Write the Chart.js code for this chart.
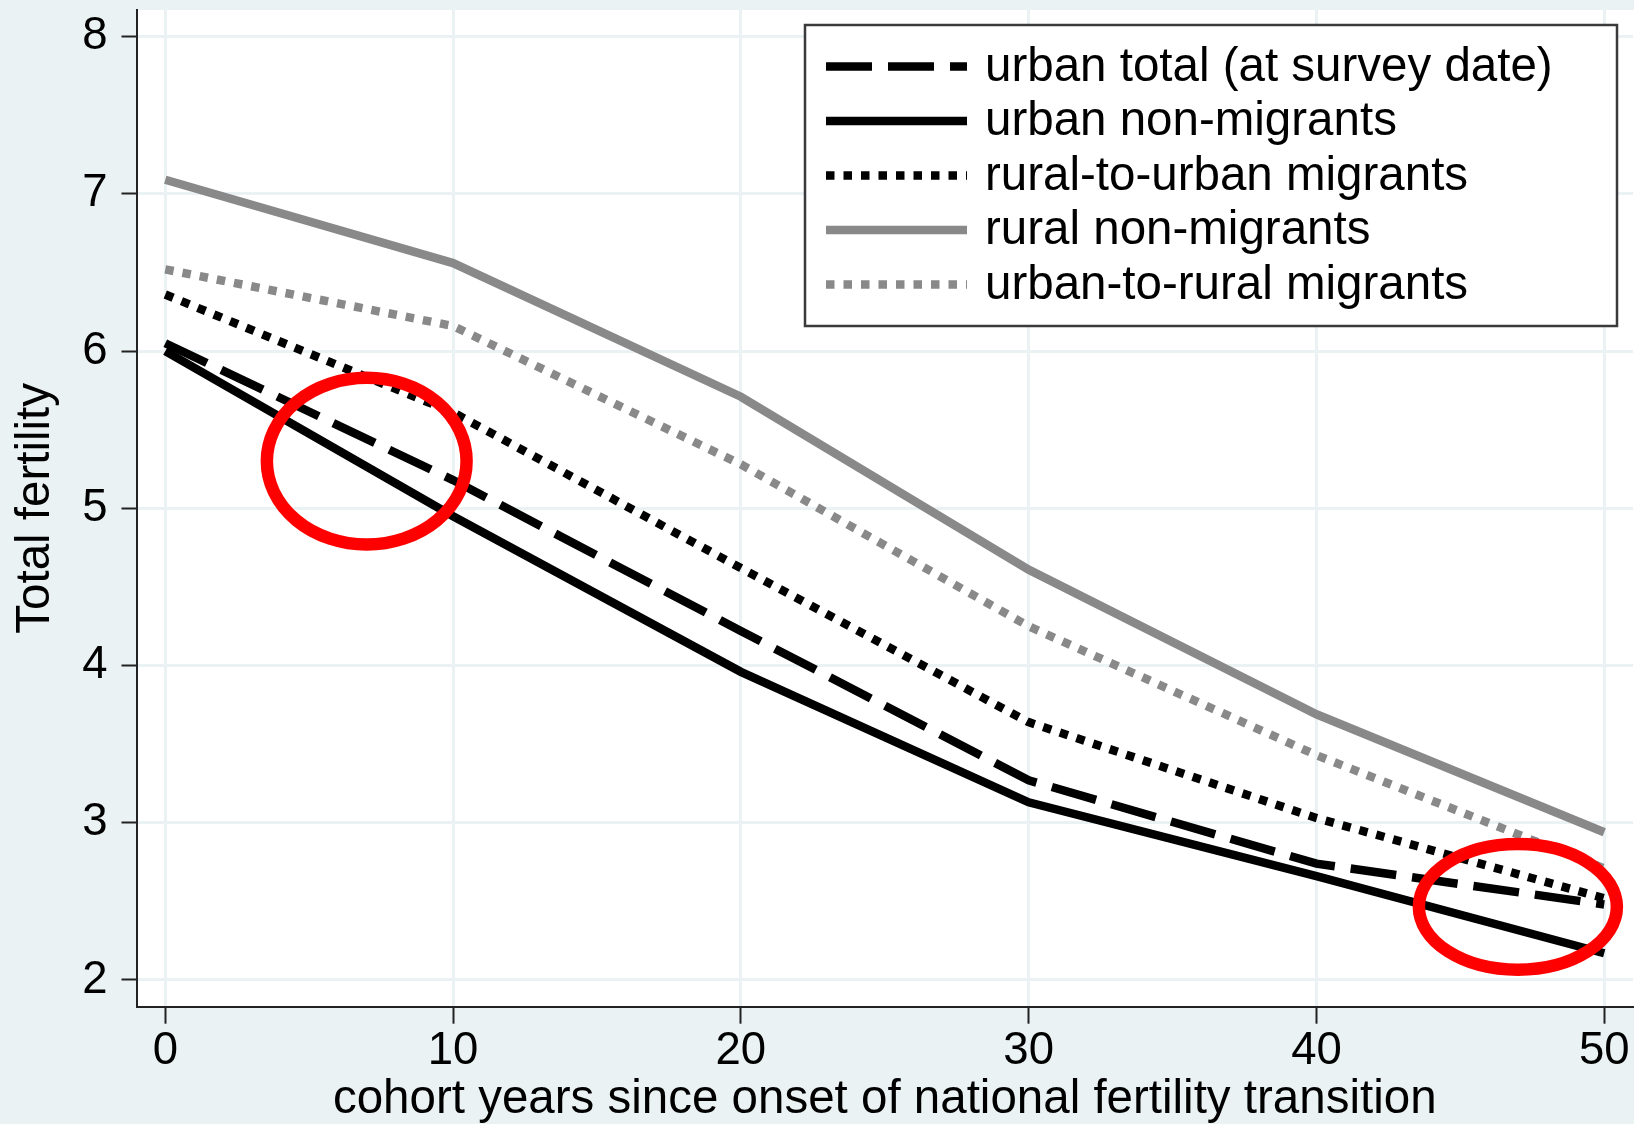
<!DOCTYPE html>
<html>
<head>
<meta charset="utf-8">
<script src="https://cdn.jsdelivr.net/npm/chart.js@4.4.1/dist/chart.umd.min.js"></script>
<style>
  html, body { margin: 0; padding: 0; background: #eaf2f3; }
  #wrap { width: 1634px; height: 1124px; }
</style>
</head>
<body>
<div id="wrap"><canvas id="c" width="1634" height="1124"></canvas></div>
<script>
// Cohort years since onset of the national fertility transition
const cohortYears = [0, 10, 20, 30, 40, 50];

// Total fertility by group
const urbanTotal        = [6.05, 5.18, 4.22, 3.27, 2.74, 2.48];
const urbanNonMigrants  = [6.00, 4.95, 3.96, 3.13, 2.66, 2.17];
const ruralToUrban      = [6.36, 5.61, 4.62, 3.64, 3.03, 2.52];
const ruralNonMigrants  = [7.09, 6.56, 5.71, 4.61, 3.69, 2.94];
const urbanToRural      = [6.52, 6.16, 5.28, 4.25, 3.43, 2.71];

const seriesLabels = [
  'urban total (at survey date)',
  'urban non-migrants',
  'rural-to-urban migrants',
  'rural non-migrants',
  'urban-to-rural migrants'
];

// Axis ticks
const xTickValues = [0, 10, 20, 30, 40, 50];
const yTickValues = [2, 3, 4, 5, 6, 7, 8];

// Highlight ellipses (centre x, centre y, half-width, half-height) in data units
const highlightCx = [7.0, 47.0];
const highlightCy = [5.30, 2.465];
const highlightRx = [3.47, 3.44];
const highlightRy = [0.53, 0.40];

const BG = '#eaf2f3';
const GREY = '#898989';
const FONT = '"Liberation Sans", Arial, Helvetica, sans-serif';

function pts(ys) { return cohortYears.map((x, i) => ({ x: x, y: ys[i] })); }

const LW = 8.5;
const DOT = [8.5, 9];
const datasets = [
  { label: seriesLabels[0], data: pts(urbanTotal),       borderColor: '#000', borderDash: [46, 16], order: 5 },
  { label: seriesLabels[1], data: pts(urbanNonMigrants), borderColor: '#000', borderDash: [],       order: 4 },
  { label: seriesLabels[2], data: pts(ruralToUrban),     borderColor: '#000', borderDash: DOT,      order: 3 },
  { label: seriesLabels[3], data: pts(ruralNonMigrants), borderColor: GREY,   borderDash: [],       order: 2 },
  { label: seriesLabels[4], data: pts(urbanToRural),     borderColor: GREY,   borderDash: DOT,      order: 1 }
].map(d => Object.assign(d, {
  borderWidth: LW, pointRadius: 0, pointHoverRadius: 0, fill: false, tension: 0,
  borderCapStyle: 'butt', borderJoinStyle: 'miter'
}));

// Page background and white plot region
const backgroundPlugin = {
  id: 'panelBackground',
  beforeDraw(chart) {
    const { ctx, chartArea: a } = chart;
    ctx.save();
    ctx.fillStyle = BG;
    ctx.fillRect(0, 0, chart.width, chart.height);
    ctx.fillStyle = '#ffffff';
    ctx.fillRect(a.left, a.top, chart.width - a.left, a.bottom - a.top);
    ctx.restore();
  }
};

// Boxed legend in the upper right of the plot region
const boxLegendPlugin = {
  id: 'boxLegend',
  afterDatasetsDraw(chart) {
    const { ctx, chartArea: a } = chart;
    const right = a.right - 16, top = a.top + 15;
    const w = 812, h = 301;
    const left = right - w;
    ctx.save();
    ctx.fillStyle = '#ffffff';
    ctx.fillRect(left, top, w, h);
    ctx.strokeStyle = '#3a3a3a';
    ctx.lineWidth = 2.5;
    ctx.strokeRect(left, top, w, h);
    ctx.font = '47.5px ' + FONT;
    ctx.textBaseline = 'middle';
    ctx.fillStyle = '#000';
    chart.data.datasets.forEach((ds, i) => {
      const y = top + 41.5 + i * 54.5;
      ctx.beginPath();
      ctx.strokeStyle = ds.borderColor;
      ctx.lineWidth = LW;
      ctx.lineCap = 'butt';
      ctx.setLineDash(ds.borderDash || []);
      ctx.moveTo(left + 21, y);
      ctx.lineTo(left + 162, y);
      ctx.stroke();
      ctx.setLineDash([]);
      ctx.fillText(ds.label, left + 180, y + 1);
    });
    ctx.restore();
  }
};

// Red highlight ellipses placed in data coordinates
const highlightPlugin = {
  id: 'highlights',
  afterDraw(chart) {
    const { ctx } = chart;
    const xs = chart.scales.x, ys = chart.scales.y;
    ctx.save();
    ctx.strokeStyle = '#ff0000';
    ctx.lineWidth = 12.5;
    highlightCx.forEach((cx, i) => {
      const px = xs.getPixelForValue(cx);
      const py = ys.getPixelForValue(highlightCy[i]);
      const rx = Math.abs(xs.getPixelForValue(cx + highlightRx[i]) - px);
      const ry = Math.abs(ys.getPixelForValue(highlightCy[i] + highlightRy[i]) - py);
      ctx.beginPath();
      ctx.ellipse(px, py, rx, ry, 0, 0, Math.PI * 2);
      ctx.stroke();
    });
    ctx.restore();
  }
};

new Chart(document.getElementById('c'), {
  type: 'line',
  data: { datasets: datasets },
  plugins: [backgroundPlugin, boxLegendPlugin, highlightPlugin],
  options: {
    responsive: false,
    animation: false,
    events: [],
    layout: { padding: { top: 10, right: 1, left: 0, bottom: 0 } },
    plugins: { legend: { display: false }, tooltip: { enabled: false } },
    scales: {
      x: {
        type: 'linear',
        min: -1, max: 51,
        afterBuildTicks(scale) { scale.ticks = xTickValues.map(v => ({ value: v })); },
        afterFit(scale) { scale.height = 117.3; scale.paddingLeft = 0; scale.paddingRight = 0; },
        grid: { color: BG, lineWidth: 3, drawTicks: true, tickLength: 17, tickColor: '#222', tickWidth: 2 },
        border: { display: true, color: '#222', width: 2 },
        ticks: { color: '#000', font: { family: FONT, size: 45.5 }, padding: 0, maxRotation: 0, autoSkip: false,
                 callback: v => String(v) },
        title: { display: true, text: 'cohort years since onset of national fertility transition',
                 color: '#000', font: { family: FONT, size: 47.5, lineHeight: 1 }, padding: { top: 0, bottom: 0 } }
      },
      y: {
        type: 'linear',
        min: 1.83, max: 8.17,
        afterBuildTicks(scale) { scale.ticks = yTickValues.map(v => ({ value: v })); },
        afterFit(scale) { scale.width = 136.5; scale.paddingTop = 0; scale.paddingBottom = 0; },
        grid: { color: BG, lineWidth: 3, drawTicks: true, tickLength: 15, tickColor: '#222', tickWidth: 2 },
        border: { display: true, color: '#222', width: 2 },
        ticks: { color: '#000', font: { family: FONT, size: 45.5 }, padding: 14, autoSkip: false,
                 callback: v => String(v) },
        title: { display: true, text: 'Total fertility',
                 color: '#000', font: { family: FONT, size: 47.5, lineHeight: 1 }, padding: { top: 12.5, bottom: 0 } }
      }
    }
  }
});
</script>
</body>
</html>
